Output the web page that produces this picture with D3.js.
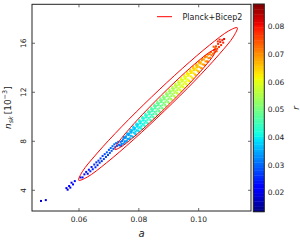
<!DOCTYPE html>
<html><head><meta charset="utf-8">
<script src="https://cdn.jsdelivr.net/npm/d3@7"></script>
<style>body{margin:0;background:#fff}svg{display:block}</style>
</head><body>
<svg id="c" width="300" height="245"></svg>
<script>
const xTicks=[0.06,0.08,0.10];
const yTicks=[4,8,12,16];
const rTicks=[0.02,0.03,0.04,0.05,0.06,0.07,0.08];
const legendLabel="Planck+Bicep2";
const xDomain=[0.04429,0.11749];
const yDomain=[2.31,19.18];
const rDomain=[0.0131,0.0882];

const contour68=[[0.10580,15.50],[0.10505,15.05],[0.10184,14.05],[0.09668,12.65],[0.09032,11.06],[0.08375,9.53],[0.07797,8.28],[0.07385,7.51],[0.07203,7.33],[0.07277,7.77],[0.07598,8.77],[0.08114,10.17],[0.08750,11.76],[0.09407,13.30],[0.09985,14.55],[0.10397,15.32]];
const contour95=[[0.11289,17.27],[0.11172,16.58],[0.10669,15.05],[0.09858,12.91],[0.08860,10.49],[0.07829,8.15],[0.06923,6.25],[0.06277,5.08],[0.05991,4.82],[0.06108,5.51],[0.06612,7.04],[0.07422,9.18],[0.08420,11.60],[0.09452,13.94],[0.10358,15.84],[0.11004,17.01]];

const samples=[
[0.0473,3.13,0.018],[0.0489,3.20,0.019],
[0.0558,4.18,0.021],[0.0562,4.05,0.020],[0.0567,4.35,0.022],[0.0571,4.22,0.021],[0.0575,4.62,0.022],[0.0580,4.48,0.021],[0.0586,4.75,0.023],
[0.0605,5.05,0.022],[0.0612,5.05,0.023],[0.0618,5.30,0.022],[0.0624,5.50,0.024],[0.0629,5.35,0.023],[0.0633,5.68,0.024],[0.0638,5.55,0.025],[0.0642,5.90,0.024],[0.0646,5.72,0.025],[0.0651,6.10,0.026],[0.0655,5.88,0.025],[0.0658,6.28,0.026],[0.0662,6.05,0.025],[0.0665,6.42,0.027],[0.0669,6.25,0.026],[0.0672,6.60,0.027],[0.0676,6.38,0.026],[0.0679,6.80,0.028],[0.0683,6.55,0.027],[0.0686,6.95,0.028],[0.0690,6.72,0.027],[0.0693,7.10,0.029],[0.0697,6.88,0.028],[0.0700,7.30,0.029],[0.0703,7.05,0.028],[0.0706,7.45,0.030],[0.0709,7.22,0.029],[0.0712,7.60,0.030],[0.0715,7.38,0.029],[0.0718,7.75,0.030],[0.0721,7.52,0.030],[0.0724,7.85,0.031],[0.0727,7.62,0.030],[0.0731,7.95,0.031],[0.0733,7.72,0.030],
[0.0736,7.66,0.030],[0.0739,7.95,0.031],[0.0742,7.78,0.032],[0.0744,8.02,0.031],[0.0741,7.62,0.030],
[0.0748,7.80,0.032],[0.0751,8.25,0.034],[0.0753,8.00,0.033],[0.0747,8.15,0.032],[0.0752,7.88,0.034],[0.0750,8.35,0.033],
[0.0758,7.98,0.033],[0.0761,8.55,0.035],[0.0763,8.20,0.034],[0.0757,8.40,0.034],[0.0760,8.05,0.035],[0.0762,8.65,0.036],[0.0756,8.28,0.033],
[0.0768,8.18,0.034],[0.0771,8.80,0.036],[0.0773,8.45,0.035],[0.0767,8.62,0.035],[0.0770,8.25,0.036],[0.0772,8.95,0.037],[0.0766,8.50,0.034],[0.0774,8.70,0.036],
[0.0778,8.40,0.036],[0.0781,9.10,0.038],[0.0783,8.70,0.037],[0.0777,8.90,0.036],[0.0780,8.35,0.037],[0.0782,9.20,0.038],[0.0776,8.78,0.036],[0.0784,8.95,0.038],
[0.0788,8.60,0.037],[0.0791,9.35,0.039],[0.0793,8.90,0.038],[0.0787,9.10,0.038],[0.0790,8.55,0.039],[0.0792,9.45,0.040],[0.0786,9.00,0.037],[0.0794,9.20,0.039],[0.0789,8.78,0.038],
[0.0798,8.85,0.039],[0.0801,9.62,0.041],[0.0803,9.15,0.040],[0.0797,9.38,0.039],[0.0800,8.80,0.040],[0.0802,9.72,0.042],[0.0796,9.25,0.039],[0.0804,9.45,0.041],[0.0799,9.05,0.040],
[0.0808,9.05,0.040],[0.0811,9.88,0.042],[0.0813,9.40,0.041],[0.0807,9.62,0.041],[0.0810,9.00,0.042],[0.0812,9.98,0.043],[0.0806,9.48,0.040],[0.0814,9.70,0.042],[0.0809,9.25,0.041],
[0.0818,9.30,0.041],[0.0821,10.12,0.043],[0.0823,9.65,0.042],[0.0817,9.88,0.042],[0.0820,9.22,0.043],[0.0822,10.25,0.044],[0.0816,9.72,0.041],[0.0824,9.95,0.043],[0.0819,9.50,0.042],
[0.0828,9.52,0.043],[0.0831,10.38,0.045],[0.0833,9.90,0.044],[0.0827,10.12,0.043],[0.0830,9.45,0.044],[0.0832,10.50,0.046],[0.0826,9.98,0.043],[0.0834,10.20,0.045],[0.0829,9.75,0.044],
[0.0838,9.75,0.044],[0.0841,10.62,0.046],[0.0843,10.15,0.045],[0.0837,10.38,0.045],[0.0840,9.68,0.046],[0.0842,10.75,0.047],[0.0836,10.22,0.044],[0.0844,10.45,0.046],[0.0839,9.98,0.045],
[0.0848,10.00,0.045],[0.0851,10.88,0.047],[0.0853,10.40,0.046],[0.0847,10.62,0.046],[0.0850,9.92,0.047],[0.0852,11.00,0.048],[0.0846,10.48,0.045],[0.0854,10.70,0.047],[0.0849,10.22,0.046],
[0.0858,10.25,0.047],[0.0861,11.12,0.049],[0.0863,10.62,0.048],[0.0857,10.88,0.047],[0.0860,10.15,0.048],[0.0862,11.25,0.050],[0.0856,10.70,0.047],[0.0864,10.95,0.049],[0.0859,10.45,0.048],
[0.0868,10.48,0.048],[0.0871,11.35,0.050],[0.0873,10.88,0.049],[0.0867,11.10,0.048],[0.0870,10.40,0.049],[0.0872,11.50,0.051],[0.0866,10.95,0.048],[0.0874,11.20,0.050],[0.0869,10.70,0.049],
[0.0878,10.72,0.049],[0.0881,11.60,0.051],[0.0883,11.12,0.050],[0.0877,11.35,0.050],[0.0880,10.65,0.051],[0.0882,11.72,0.052],[0.0876,11.20,0.049],[0.0884,11.45,0.051],[0.0879,10.95,0.050],
[0.0888,10.98,0.051],[0.0891,11.85,0.053],[0.0893,11.35,0.052],[0.0887,11.58,0.051],[0.0890,10.88,0.052],[0.0892,11.98,0.054],[0.0886,11.42,0.051],[0.0894,11.68,0.053],[0.0889,11.20,0.052],
[0.0898,11.22,0.052],[0.0901,12.08,0.054],[0.0903,11.60,0.053],[0.0897,11.82,0.052],[0.0900,11.12,0.053],[0.0902,12.22,0.055],[0.0896,11.68,0.052],[0.0904,11.92,0.054],[0.0899,11.45,0.053],
[0.0908,11.45,0.053],[0.0911,12.32,0.055],[0.0913,11.85,0.054],[0.0907,12.08,0.054],[0.0910,11.38,0.055],[0.0912,12.45,0.056],[0.0906,11.92,0.053],[0.0914,12.15,0.055],[0.0909,11.70,0.054],
[0.0918,11.70,0.055],[0.0921,12.55,0.057],[0.0923,12.08,0.056],[0.0917,12.30,0.055],[0.0920,11.62,0.056],[0.0922,12.68,0.058],[0.0916,12.15,0.055],[0.0924,12.40,0.057],[0.0919,11.95,0.056],
[0.0928,11.95,0.056],[0.0931,12.80,0.058],[0.0933,12.32,0.057],[0.0927,12.55,0.056],[0.0930,11.88,0.057],[0.0932,12.92,0.059],[0.0926,12.40,0.056],[0.0934,12.62,0.058],[0.0929,12.18,0.057],
[0.0938,12.20,0.058],[0.0941,13.02,0.060],[0.0943,12.55,0.059],[0.0937,12.78,0.058],[0.0940,12.12,0.059],[0.0942,13.15,0.061],[0.0936,12.65,0.058],[0.0944,12.88,0.060],[0.0939,12.42,0.059],
[0.0948,12.45,0.059],[0.0951,13.28,0.061],[0.0953,12.80,0.060],[0.0947,13.02,0.059],[0.0950,12.38,0.060],[0.0952,13.40,0.062],[0.0946,12.90,0.059],[0.0954,13.12,0.061],[0.0949,12.65,0.060],
[0.0958,12.70,0.060],[0.0961,13.50,0.062],[0.0963,13.05,0.061],[0.0957,13.25,0.060],[0.0960,12.62,0.061],[0.0962,13.62,0.063],[0.0956,13.12,0.060],[0.0964,13.35,0.062],[0.0959,12.90,0.061],
[0.0968,12.95,0.062],[0.0971,13.72,0.064],[0.0973,13.30,0.063],[0.0967,13.50,0.062],[0.0970,12.88,0.063],[0.0972,13.85,0.065],[0.0966,13.38,0.062],[0.0974,13.58,0.064],
[0.0978,13.20,0.063],[0.0981,13.95,0.065],[0.0983,13.55,0.064],[0.0977,13.72,0.063],[0.0980,13.12,0.064],[0.0982,14.08,0.066],[0.0976,13.62,0.063],[0.0984,13.80,0.065],
[0.0988,13.45,0.064],[0.0991,14.18,0.066],[0.0993,13.80,0.065],[0.0987,13.95,0.064],[0.0990,13.40,0.066],[0.0992,14.30,0.067],[0.0986,13.85,0.064],[0.0994,14.02,0.066],
[0.0998,13.72,0.066],[0.1001,14.42,0.068],[0.1003,14.05,0.067],[0.0997,14.20,0.066],[0.1000,13.68,0.067],[0.1002,14.52,0.069],[0.0996,14.10,0.066],
[0.1008,13.98,0.067],[0.1011,14.62,0.069],[0.1013,14.28,0.068],[0.1007,14.45,0.067],[0.1010,13.95,0.069],[0.1012,14.72,0.070],[0.1006,14.35,0.067],
[0.1018,14.25,0.068],[0.1021,14.85,0.070],[0.1023,14.52,0.069],[0.1017,14.68,0.069],[0.1020,14.22,0.070],[0.1022,14.95,0.071],
[0.1028,14.52,0.070],[0.1031,15.08,0.072],[0.1033,14.78,0.071],[0.1027,14.90,0.070],[0.1030,14.50,0.072],
[0.1038,14.82,0.071],[0.1041,15.28,0.073],[0.1043,15.02,0.072],[0.1037,15.12,0.071],
[0.1048,15.15,0.073],[0.1051,15.45,0.075],[0.1053,15.28,0.074],
[0.1058,15.75,0.076],[0.1062,15.55,0.077],[0.1065,15.95,0.078],[0.1068,15.70,0.077],[0.1072,16.10,0.079],[0.1075,15.85,0.078],[0.1079,16.25,0.080],[0.1082,16.05,0.079],[0.1060,15.35,0.075],[0.1055,15.60,0.074],[0.1070,16.30,0.078],[0.1085,16.35,0.081],[0.1050,15.72,0.074],[0.1064,16.15,0.077]
];

// ---------- layout ----------
const P={x0:32,x1:251,y0:4.3,y1:211};
const CB={x0:253.3,x1:264.3,y0:4,y1:211.7};
const svg=d3.select("#c");
const font="DejaVu Sans";

const x=d3.scaleLinear().domain(xDomain).range([P.x0,P.x1]);
const y=d3.scaleLinear().domain(yDomain).range([P.y1,P.y0]);
const c=d3.scaleLinear().domain(rDomain).range([CB.y1,CB.y0]);

// matplotlib jet
const jr=d3.scaleLinear().domain([0,.35,.66,.89,1]).range([0,0,1,1,.5]).clamp(true);
const jg=d3.scaleLinear().domain([0,.125,.375,.64,.91,1]).range([0,0,1,1,0,0]).clamp(true);
const jb=d3.scaleLinear().domain([0,.11,.34,.65,1]).range([.5,1,1,0,0]).clamp(true);
const tNorm=d3.scaleLinear().domain(rDomain).range([0,1]).clamp(true);
function jet(v){const t=tNorm(v);return d3.rgb(jr(t)*255,jg(t)*255,jb(t)*255).toString();}

// clip
svg.append("clipPath").attr("id","pc").append("rect")
  .attr("x",P.x0).attr("y",P.y0).attr("width",P.x1-P.x0).attr("height",P.y1-P.y0);

const g=svg.append("g").attr("clip-path","url(#pc)");
g.selectAll("rect.s").data(samples).enter().append("rect")
  .attr("x",d=>x(d[0])-1).attr("y",d=>y(d[1])-1)
  .attr("width",2).attr("height",2)
  .attr("fill",d=>jet(d[2]));

const line=d3.line().x(d=>x(d[0])).y(d=>y(d[1])).curve(d3.curveCatmullRomClosed.alpha(0.5));
[contour95,contour68].forEach(cn=>{
  g.append("path").attr("d",line(cn)).attr("fill","none")
   .attr("stroke","#ff0000").attr("stroke-width",1);
});

// frame
svg.append("rect").attr("x",P.x0).attr("y",P.y0).attr("width",P.x1-P.x0).attr("height",P.y1-P.y0)
  .attr("fill","none").attr("stroke","#222").attr("stroke-width",1);

// ticks (inward, all sides)
const tl=3;
xTicks.forEach(v=>{
  svg.append("line").attr("x1",x(v)).attr("x2",x(v)).attr("y1",P.y1).attr("y2",P.y1-tl).attr("stroke","#444").attr("stroke-width",0.8);
  svg.append("line").attr("x1",x(v)).attr("x2",x(v)).attr("y1",P.y0).attr("y2",P.y0+tl).attr("stroke","#444").attr("stroke-width",0.8);
  svg.append("text").attr("x",x(v)).attr("y",221.5).attr("text-anchor","middle")
    .attr("font-family",font).attr("font-size",7.5).attr("fill","#222").text(d3.format(".2f")(v));
});
yTicks.forEach(v=>{
  svg.append("line").attr("x1",P.x0).attr("x2",P.x0+tl).attr("y1",y(v)).attr("y2",y(v)).attr("stroke","#444").attr("stroke-width",0.8);
  svg.append("line").attr("x1",P.x1).attr("x2",P.x1-tl).attr("y1",y(v)).attr("y2",y(v)).attr("stroke","#444").attr("stroke-width",0.8);
  svg.append("text").attr("transform",`translate(25.5,${y(v)}) rotate(-90)`).attr("text-anchor","middle")
    .attr("font-family",font).attr("font-size",7.5).attr("fill","#222").text(v);
});

// axis labels
svg.append("text").attr("x",(P.x0+P.x1)/2).attr("y",237).attr("text-anchor","middle")
  .attr("font-family",font).attr("font-style","italic").attr("font-size",10).attr("fill","#222").text("a");
const yl=svg.append("text").attr("transform",`translate(10.5,${(P.y0+P.y1)/2}) rotate(-90)`).attr("text-anchor","middle")
  .attr("font-family",font).attr("font-size",9).attr("fill","#222");
yl.append("tspan").attr("font-style","italic").text("n");
yl.append("tspan").attr("font-size",6.5).attr("dy",2).attr("font-style","italic").text("sk");
yl.append("tspan").attr("dy",-2).text("\u2009[10");
yl.append("tspan").attr("font-size",6.5).attr("dy",-3.5).text("\u22123");
yl.append("tspan").attr("dy",3.5).text("]");

// legend
svg.append("line").attr("x1",157).attr("x2",172).attr("y1",16.7).attr("y2",16.7).attr("stroke","#ff0000").attr("stroke-width",1);
svg.append("text").attr("x",182.5).attr("y",20).attr("font-family",font).attr("font-size",8).attr("fill","#222").text(legendLabel);

// colorbar
const N=80;
const step=(rDomain[1]-rDomain[0])/N;
const cb=svg.append("g");
for(let i=0;i<N;i++){
  const v0=rDomain[0]+i*step, v1=v0+step;
  cb.append("rect").attr("x",CB.x0).attr("width",CB.x1-CB.x0)
    .attr("y",c(v1)).attr("height",c(v0)-c(v1)+0.4).attr("fill",jet((v0+v1)/2));
}
svg.append("rect").attr("x",CB.x0).attr("y",CB.y0).attr("width",CB.x1-CB.x0).attr("height",CB.y1-CB.y0)
  .attr("fill","none").attr("stroke","#222").attr("stroke-width",1);
rTicks.forEach(v=>{
  svg.append("text").attr("x",267.7).attr("y",c(v)+2.8).attr("font-family",font).attr("font-size",7.5).attr("fill","#222").text(d3.format(".2f")(v));
});
svg.append("text").attr("transform",`translate(299,${(CB.y0+CB.y1)/2}) rotate(-90)`).attr("text-anchor","middle")
  .attr("font-family",font).attr("font-style","italic").attr("font-size",9).attr("fill","#222").text("r");
</script>
</body></html>
